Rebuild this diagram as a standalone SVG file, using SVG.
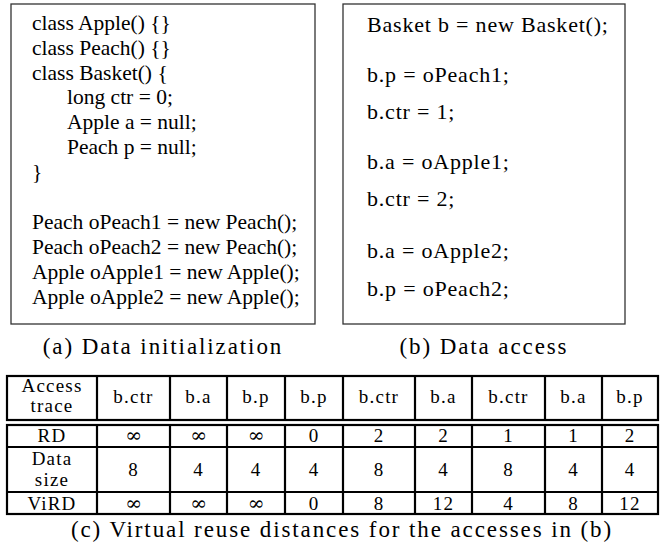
<svg xmlns="http://www.w3.org/2000/svg" width="660" height="544" viewBox="0 0 660 544">
<style>
  .box { fill: #fff; stroke: #333; stroke-width: 1.3; }
  .ca { font-family: "Liberation Serif", serif; font-size: 21.5px; fill: #000; }
  .cb { font-family: "Liberation Serif", serif; font-size: 22px; letter-spacing: 0.8px; fill: #000; }
  .cap { font-family: "Liberation Serif", serif; font-size: 23px; letter-spacing: 1.9px; fill: #000; text-anchor: middle; }
  .t { font-family: "Liberation Serif", serif; font-size: 19px; letter-spacing: 1.2px; fill: #000; text-anchor: middle; }
  .inf { font-family: "DejaVu Serif", serif; font-size: 20px; fill: #000; text-anchor: middle; }
  .tl { fill: none; stroke: #000; stroke-width: 2.2; }
</style>
<rect width="660" height="544" fill="#fff"/>

<g id="init">
  <rect class="box" x="11" y="4" width="304" height="320"/>
  <text class="ca" x="32" y="30">class Apple() {}</text>
  <text class="ca" x="32" y="55">class Peach() {}</text>
  <text class="ca" x="32" y="80">class Basket() {</text>
  <text class="ca" x="67" y="104">long ctr = 0;</text>
  <text class="ca" x="67" y="129">Apple a = null;</text>
  <text class="ca" x="67" y="154">Peach p = null;</text>
  <text class="ca" x="32" y="179">}</text>
  <text class="ca" x="32" y="229">Peach oPeach1 = new Peach();</text>
  <text class="ca" x="32" y="254">Peach oPeach2 = new Peach();</text>
  <text class="ca" x="32" y="279">Apple oApple1 = new Apple();</text>
  <text class="ca" x="32" y="304">Apple oApple2 = new Apple();</text>
</g>

<g id="access">
  <rect class="box" x="343" y="4" width="282" height="320"/>
  <text class="cb" x="367" y="32">Basket b = new Basket();</text>
  <text class="cb" x="367" y="82">b.p = oPeach1;</text>
  <text class="cb" x="367" y="119">b.ctr = 1;</text>
  <text class="cb" x="367" y="169">b.a = oApple1;</text>
  <text class="cb" x="367" y="206">b.ctr = 2;</text>
  <text class="cb" x="367" y="258">b.a = oApple2;</text>
  <text class="cb" x="367" y="296">b.p = oPeach2;</text>
</g>

<g id="captions">
  <text class="cap" x="163" y="354">(a) Data initialization</text>
  <text class="cap" x="484" y="354">(b) Data access</text>
  <text class="cap" x="342" y="537">(c) Virtual reuse distances for the accesses in (b)</text>
</g>

<g id="table">
  <rect class="tl" x="7" y="376" width="651" height="44"/>
  <rect class="tl" x="7" y="425" width="651" height="89"/>
  <path class="tl" d="M7 447H658M7 492H658"/>
  <path class="tl" d="M97 376V420M170 376V420M227 376V420M285 376V420M343 376V420M415 376V420M472 376V420M545 376V420M602 376V420"/>
  <path class="tl" d="M97 425V514M170 425V514M227 425V514M285 425V514M343 425V514M415 425V514M472 425V514M545 425V514M602 425V514"/>

  <text class="t" x="52" y="392">Access</text>
  <text class="t" x="52" y="412">trace</text>
  <text class="t" x="133.5" y="403">b.ctr</text>
  <text class="t" x="198.5" y="403">b.a</text>
  <text class="t" x="256" y="403">b.p</text>
  <text class="t" x="314" y="403">b.p</text>
  <text class="t" x="379" y="403">b.ctr</text>
  <text class="t" x="443.5" y="403">b.a</text>
  <text class="t" x="508.5" y="403">b.ctr</text>
  <text class="t" x="573.5" y="403">b.a</text>
  <text class="t" x="630" y="403">b.p</text>

  <text class="t" x="52" y="442">RD</text>
  <text class="inf" x="133.5" y="442">∞</text>
  <text class="inf" x="198.5" y="442">∞</text>
  <text class="inf" x="256" y="442">∞</text>
  <text class="t" x="314" y="442">0</text>
  <text class="t" x="379" y="442">2</text>
  <text class="t" x="443.5" y="442">2</text>
  <text class="t" x="508.5" y="442">1</text>
  <text class="t" x="573.5" y="442">1</text>
  <text class="t" x="630" y="442">2</text>

  <text class="t" x="52" y="465">Data</text>
  <text class="t" x="52" y="486">size</text>
  <text class="t" x="133.5" y="476">8</text>
  <text class="t" x="198.5" y="476">4</text>
  <text class="t" x="256" y="476">4</text>
  <text class="t" x="314" y="476">4</text>
  <text class="t" x="379" y="476">8</text>
  <text class="t" x="443.5" y="476">4</text>
  <text class="t" x="508.5" y="476">8</text>
  <text class="t" x="573.5" y="476">4</text>
  <text class="t" x="630" y="476">4</text>

  <text class="t" x="52" y="510">ViRD</text>
  <text class="inf" x="133.5" y="510">∞</text>
  <text class="inf" x="198.5" y="510">∞</text>
  <text class="inf" x="256" y="510">∞</text>
  <text class="t" x="314" y="510">0</text>
  <text class="t" x="379" y="510">8</text>
  <text class="t" x="443.5" y="510">12</text>
  <text class="t" x="508.5" y="510">4</text>
  <text class="t" x="573.5" y="510">8</text>
  <text class="t" x="630" y="510">12</text>
</g>
</svg>
